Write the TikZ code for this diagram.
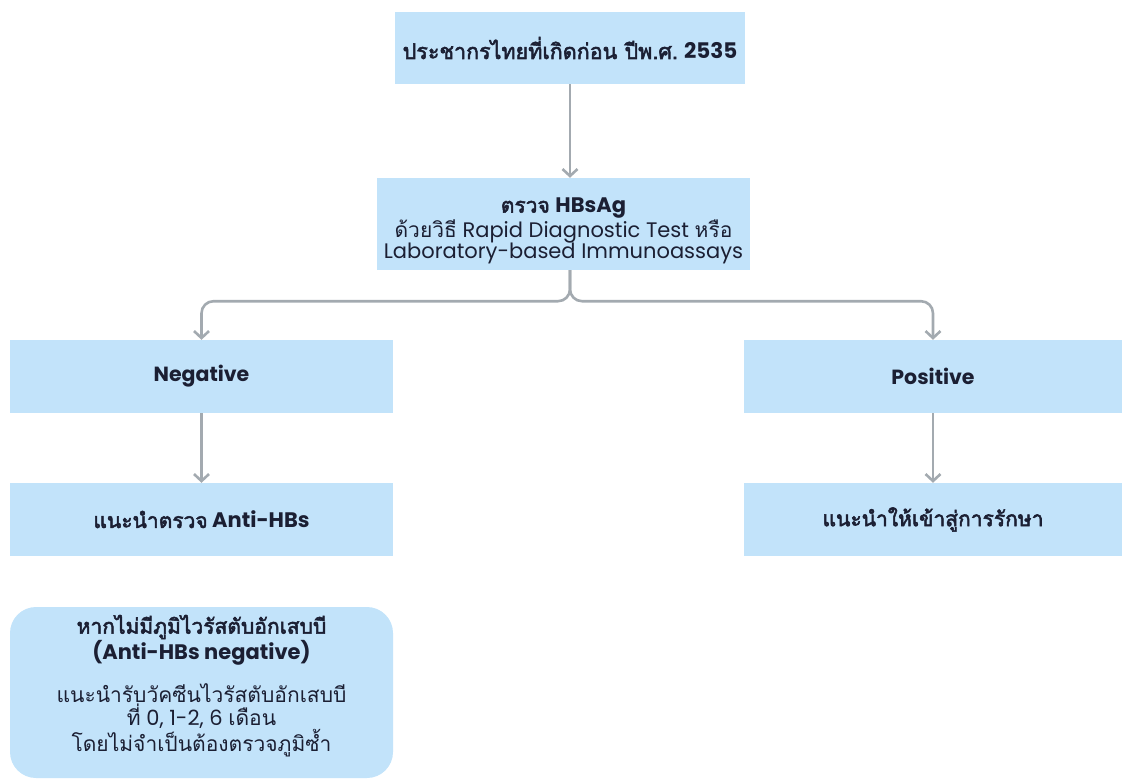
\documentclass[tikz,border=0pt]{standalone}
\usepackage{fontspec}
\setmainfont{Poppins}
\newfontfamily\thai[Script=Thai, AutoFakeBold=2.5]{Loma}
\usetikzlibrary{arrows.meta}

\definecolor{boxblue}{HTML}{C2E3FA}
\definecolor{linegray}{HTML}{A3AAB0}
\definecolor{textdark}{HTML}{1B1F33}

\tikzset{box/.style={rectangle, fill=boxblue, draw=none, text=textdark, align=center, inner sep=0pt},
	boxtext/.style={text=textdark, align=center, inner sep=0pt},
	flow/.style={draw=linegray, line width=2.6pt, -{Straight Barb[length=7pt,width=15pt,line width=2.6pt]}}}

\begin{document}
\begin{tikzpicture}[x=1pt, y=-1pt, font=\fontsize{21}{22.5}\selectfont]
		\useasboundingbox (0,0) rectangle (1122,780);
		% Draw the nodes
		\node[box, minimum width=350pt, minimum height=72pt, font=\fontsize{21.5}{23}\selectfont\bfseries] (top) at (570,48) {{\thai ประชากรไทยที่เกิดก่อน ปีพ.ศ.} 2535};
		\node[box, minimum width=373pt, minimum height=92pt] (hbs) at (563.5,224) {};
		\node[boxtext, font=\fontsize{21}{21.5}\selectfont] (hbstext) at (563.5,231) {{\bfseries\thai ตรวจ} \textbf{HBsAg}\\{\thai ด้วยวิธี} Rapid Diagnostic Test {\thai หรือ}\\Laboratory-based Immunoassays};
		
		\node[box, minimum width=383pt, minimum height=73pt, font=\fontsize{20.5}{22}\selectfont\bfseries] (neg) at (201.5,376.5) {Negative};
		\node[box, minimum width=378pt, minimum height=73pt, font=\fontsize{20.5}{22}\selectfont\bfseries] (pos) at (933,376.5) {Positive};
		
		\node[box, minimum width=383pt, minimum height=73pt, font=\fontsize{21}{22}\selectfont\bfseries] (anti) at (201.5,519.5) {{\thai แนะนำตรวจ} Anti-HBs};
		\node[box, minimum width=378pt, minimum height=73pt, font=\fontsize{21}{22}\selectfont\bfseries\thai] (treat) at (933,519.5) {แนะนำให้เข้าสู่การรักษา};
		
		\node[box, rounded corners=26pt, minimum width=383pt, minimum height=171pt] (note) at (201.5,692.5) {};
		\node[boxtext] (notetext) at (201.5,686) {{\bfseries\thai หากไม่มีภูมิไวรัสตับอักเสบบี}\\\textbf{(Anti-HBs negative)}\\[18pt]{\thai แนะนำรับวัคซีนไวรัสตับอักเสบบี}\\{\thai ที่} 0, 1-2, 6 {\thai เดือน}\\{\thai โดยไม่จำเป็นต้องตรวจภูมิซ้ำ}};
		
		% Draw the connectors
		\coordinate (split) at (top.south |- hbs.south);
		\draw[flow] (top.south) -- (top.south |- hbs.north);
		\draw[flow, rounded corners=12pt] (split) -- ++(0,31) -| (neg.north);
		\draw[flow, rounded corners=12pt] (split) -- ++(0,31) -| (pos.north);
		
		\draw[flow] (neg.south) -- (anti.north);
		\draw[flow] (pos.south) -- (treat.north);
		
	\end{tikzpicture}
\end{document}
